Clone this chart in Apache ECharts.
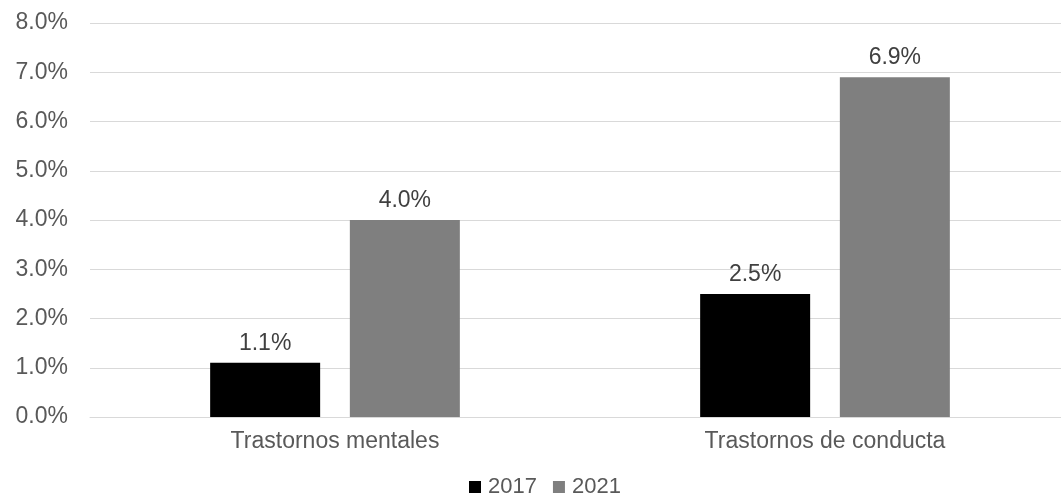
<!DOCTYPE html>
<html>
<head>
<meta charset="utf-8">
<script src="https://cdn.jsdelivr.net/npm/echarts@6/dist/echarts.min.js"></script>
<style>
  html, body { margin: 0; padding: 0; background: #fff; overflow: hidden; }
  /* canvas is a little wider than the page so the plot runs off the right edge */
  #chart { width: 1075px; height: 498px; }
</style>
</head>
<body>
<div id="chart"></div>
<script>
// Share of cases by disorder type, 2017 vs 2021 (percent)
const categories = ['Trastornos mentales', 'Trastornos de conducta'];
const seriesNames = ['2017', '2021'];
const values2017 = [1.1, 2.5];
const values2021 = [4.0, 6.9];

const FONT = 'Liberation Sans, Arial, sans-serif';
const chart = echarts.init(document.getElementById('chart'));
const labelStyle = {
  show: true,
  position: 'top',
  distance: 8,
  color: '#404040',
  fontFamily: FONT,
  fontSize: 23,
  formatter: p => p.value.toFixed(1) + '%'
};

chart.setOption({
  animation: false,
  textStyle: { fontFamily: FONT },
  grid: { left: 90, right: 5, top: 23, bottom: 81 },
  legend: {
    data: seriesNames,
    left: 464,
    top: 471,
    itemWidth: 12,
    itemHeight: 12,
    itemGap: 16,
    icon: 'rect',
    textStyle: { color: '#595959', fontSize: 22, padding: [0, 0, 0, 2] }
  },
  xAxis: {
    type: 'category',
    data: categories,
    axisLine: { show: true, lineStyle: { color: '#d9d9d9' } },
    axisTick: { show: false },
    axisLabel: { color: '#595959', fontSize: 23, margin: 13 }
  },
  yAxis: {
    type: 'value',
    min: 0,
    max: 8,
    interval: 1,
    axisLine: { show: false },
    axisTick: { show: false },
    splitLine: { lineStyle: { color: '#d9d9d9', width: 1 } },
    axisLabel: {
      color: '#595959',
      fontSize: 23,
      margin: 22,
      formatter: v => v.toFixed(1) + '%'
    }
  },
  series: [
    {
      name: seriesNames[0],
      type: 'bar',
      data: values2017,
      barWidth: 110,
      barGap: '27%',
      itemStyle: { color: '#000000' },
      label: labelStyle
    },
    {
      name: seriesNames[1],
      type: 'bar',
      data: values2021,
      barWidth: 110,
      barGap: '27%',
      itemStyle: { color: '#7f7f7f' },
      label: labelStyle
    }
  ]
});
</script>
</body>
</html>
